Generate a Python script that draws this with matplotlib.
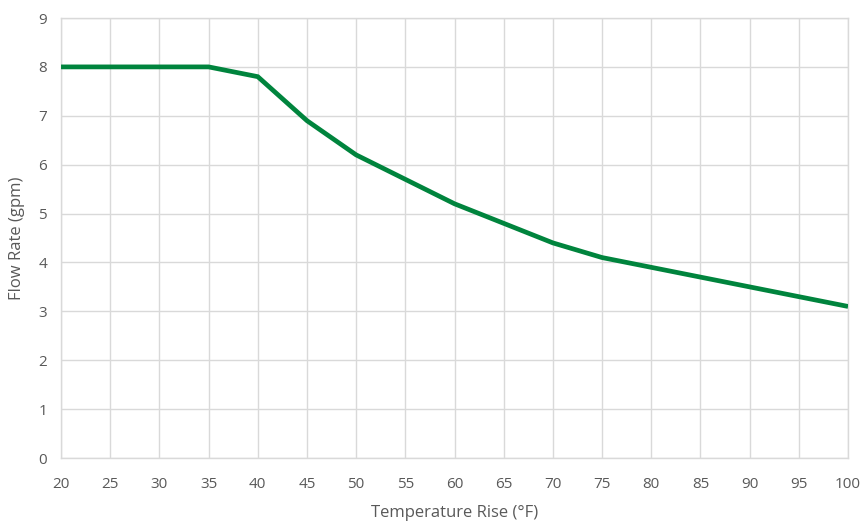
import matplotlib
matplotlib.use('Agg')
import matplotlib.pyplot as plt

# --- data ---
temp_rise = [20, 25, 30, 35, 40, 45, 50, 55, 60, 65, 70, 75, 80, 85, 90, 95, 100]
flow_rate = [8.0, 8.0, 8.0, 8.0, 7.8, 6.9, 6.2, 5.7, 5.2, 4.8, 4.4, 4.1, 3.9, 3.7, 3.5, 3.3, 3.1]
x_ticks = list(range(20, 101, 5))
y_ticks = list(range(0, 10))

plt.rcParams['font.family'] = ['Open Sans', 'DejaVu Sans']
text_grey = '#595959'
grid_grey = '#d9d9d9'

fig = plt.figure(figsize=(8.62, 5.25), dpi=100)
ax = fig.add_axes([0.0708, 0.1276, 0.913, 0.8381])

ax.plot(temp_rise, flow_rate, color='#00843d', linewidth=3.4, solid_capstyle='butt',
        solid_joinstyle='miter', zorder=3)

ax.set_xlim(20, 100)
ax.set_ylim(0, 9)
ax.set_xticks(x_ticks)
ax.set_yticks(y_ticks)
ax.grid(True, color=grid_grey, linewidth=1.0)
ax.set_axisbelow(True)
for s in ax.spines.values():
    s.set_color(grid_grey)
    s.set_linewidth(1.0)
ax.tick_params(axis='x', length=0, labelsize=11, colors=text_grey, pad=14)
ax.tick_params(axis='y', length=0, labelsize=11, colors=text_grey, pad=10)

ax.set_xlabel('Temperature Rise (°F)', fontsize=12, color=text_grey, labelpad=9)
ax.set_ylabel('Flow Rate (gpm)', fontsize=12, color=text_grey, labelpad=10)

fig.savefig('out.png', dpi=100)
